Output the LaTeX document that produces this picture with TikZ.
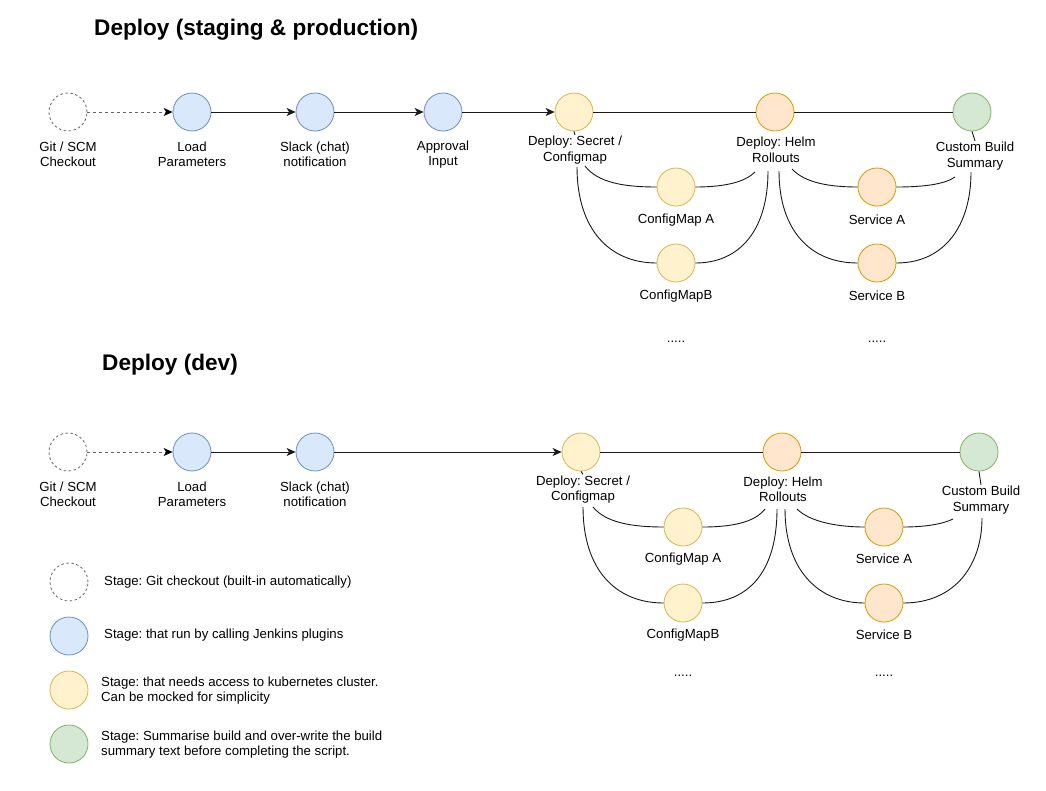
\documentclass[tikz,border=0pt]{standalone}
\usepackage{fontspec}
\setmainfont{Liberation Sans}
\usetikzlibrary{arrows.meta}
\frenchspacing
\definecolor{bfill}{HTML}{DAE8FC}\definecolor{bdraw}{HTML}{6C8EBF}
\definecolor{yfill}{HTML}{FFF2CC}\definecolor{ydraw}{HTML}{D6B656}
\definecolor{ofill}{HTML}{FFE6CC}\definecolor{odraw}{HTML}{D79B00}
\definecolor{gfill}{HTML}{D5E8D4}\definecolor{gdraw}{HTML}{82B366}
\definecolor{dgray}{HTML}{666666}
\tikzset{
  stage/.style={circle, minimum size=38pt, inner sep=0pt, line width=0.8pt},
  sgit/.style={stage, draw=dgray, fill=white, dash pattern=on 2.5pt off 2.5pt},
  sblue/.style={stage, fill=bfill, draw=bdraw},
  syellow/.style={stage, fill=yfill, draw=ydraw},
  sorange/.style={stage, fill=ofill, draw=odraw},
  sgreen/.style={stage, fill=gfill, draw=gdraw},
  lbl/.style={align=center, inner sep=1pt},
  conn/.style={line width=0.9pt, draw=black!90},
  arr/.style={conn, -{Stealth[length=9pt,width=8pt,inset=2.5pt]}},
  darr/.style={conn, draw=dgray, dash pattern=on 3pt off 3pt, -{Stealth[length=9pt,width=8pt,inset=2.5pt,color=black]}},
  ttl/.style={anchor=west, font=\bfseries\fontsize{22.6}{26}\selectfont, inner sep=0pt},
  legtxt/.style={anchor=west, align=left, inner sep=0pt},
}
\begin{document}
\begin{tikzpicture}[x=1pt,y=-1pt,font=\fontsize{13.2}{15.5}\selectfont]
\useasboundingbox (0,0) rectangle (1046,790);

% ===== Top: staging & production =====
\node[ttl] (t1) at (94,30) {Deploy (staging \& production)};

\node[sgit] (g1) at (68,112) {};
\node[sblue] (l1) at (192,112) {};
\node[sblue] (s1) at (315,112) {};
\node[sblue] (a1) at (443,112) {};
\node[syellow] (d1) at (574,112) {};
\node[sorange] (h1) at (775,112) {};
\node[sgreen] (c1) at (972,112) {};
\node[syellow] (ca1) at (676,187) {};
\node[syellow] (cb1) at (676,263) {};
\node[sorange] (sa1) at (877,187) {};
\node[sorange] (sb1) at (877,263) {};

\node[lbl] (g1l) at (68,154.5) {Git / SCM\\Checkout};
\node[lbl] (l1l) at (192,154.5) {Load\\Parameters};
\node[lbl] (s1l) at (315,154.5) {Slack (chat)\\notification};
\node[lbl] (a1l) at (443,154.5) {Approval\\Input};
\node[lbl] (d1l) at (575,150) {Deploy: Secret /\\Configmap};
\node[lbl] (h1l) at (776,150) {Deploy: Helm\\Rollouts};
\node[lbl] (c1l) at (975,156) {Custom Build\\Summary};
\node[lbl] (ca1l) at (676,220) {ConfigMap A};
\node[lbl] (cb1l) at (676,296) {ConfigMapB};
\node[lbl] (sa1l) at (877,220) {Service A};
\node[lbl] (sb1l) at (877,296) {Service B};
\node[lbl] (dots1a) at (676,342) {.....};
\node[lbl] (dots1b) at (877,342) {.....};

\draw[darr] (g1) -- (l1);
\draw[arr] (l1) -- (s1);
\draw[arr] (s1) -- (a1);
\draw[arr] (a1) -- (d1);
\draw[conn] (d1) -- (h1);
\draw[conn] (h1) -- (c1);
\draw[conn] (d1.south) -- (d1l.north);
\draw[conn] (c1.south) -- (c1l.north);

\coordinate (p1a) at (585,166);
\coordinate (p1b) at (577,167);
\coordinate (p1c) at (755,172);
\coordinate (p1d) at (768,171);
\coordinate (p1e) at (779,171);
\coordinate (p1f) at (792,169);
\coordinate (p1g) at (955,177);
\coordinate (p1h) at (971,172);
\draw[conn] (p1a) .. controls (598,183) and (625,187) .. (ca1.west);
\draw[conn] (p1b) .. controls (577,230) and (610,263) .. (cb1.west);
\draw[conn] (ca1.east) .. controls (725,187) and (745,182) .. (p1c);
\draw[conn] (cb1.east) .. controls (740,263) and (768,230) .. (p1d);
\draw[conn] (p1e) .. controls (779,230) and (810,263) .. (sb1.west);
\draw[conn] (p1f) .. controls (805,183) and (830,187) .. (sa1.west);
\draw[conn] (sa1.east) .. controls (925,187) and (945,184) .. (p1g);
\draw[conn] (sb1.east) .. controls (945,263) and (971,225) .. (p1h);

% ===== Bottom: dev =====
\node[ttl] (t2) at (102,365) {Deploy (dev)};

\node[sgit] (g2) at (68,452) {};
\node[sblue] (l2) at (192,452) {};
\node[sblue] (s2) at (315,452) {};
\node[syellow] (d2) at (581,452) {};
\node[sorange] (h2) at (782,452) {};
\node[sgreen] (c2) at (979,452) {};
\node[syellow] (ca2) at (683,527) {};
\node[syellow] (cb2) at (683,603) {};
\node[sorange] (sa2) at (884,527) {};
\node[sorange] (sb2) at (884,603) {};

\node[lbl] (g2l) at (68,494.5) {Git / SCM\\Checkout};
\node[lbl] (l2l) at (192,494.5) {Load\\Parameters};
\node[lbl] (s2l) at (315,494.5) {Slack (chat)\\notification};
\node[lbl] (d2l) at (583,489.5) {Deploy: Secret /\\Configmap};
\node[lbl] (h2l) at (783,489.5) {Deploy: Helm\\Rollouts};
\node[lbl] (c2l) at (981,500) {Custom Build\\Summary};
\node[lbl] (ca2l) at (683,559) {ConfigMap A};
\node[lbl] (cb2l) at (683,635) {ConfigMapB};
\node[lbl] (sa2l) at (884,559) {Service A};
\node[lbl] (sb2l) at (884,635) {Service B};
\node[lbl] (dots2a) at (683,676) {.....};
\node[lbl] (dots2b) at (884,676) {.....};

\draw[darr] (g2) -- (l2);
\draw[arr] (l2) -- (s2);
\draw[arr] (s2) -- (d2);
\draw[conn] (d2) -- (h2);
\draw[conn] (h2) -- (c2);
\draw[conn] (d2.south) -- (d2l.north);
\draw[conn] (c2.south) -- (c2l.north);

\coordinate (p2a) at (593,507);
\coordinate (p2b) at (583,507);
\coordinate (p2c) at (765,509);
\coordinate (p2d) at (777,509);
\coordinate (p2e) at (785,509);
\coordinate (p2f) at (797,509);
\coordinate (p2g) at (953,519);
\coordinate (p2h) at (982,518);
\draw[conn] (p2a) .. controls (606,523) and (633,527) .. (ca2.west);
\draw[conn] (p2b) .. controls (583,570) and (616,603) .. (cb2.west);
\draw[conn] (ca2.east) .. controls (733,527) and (755,522) .. (p2c);
\draw[conn] (cb2.east) .. controls (750,603) and (777,570) .. (p2d);
\draw[conn] (p2e) .. controls (785,570) and (818,603) .. (sb2.west);
\draw[conn] (p2f) .. controls (810,522) and (838,527) .. (sa2.west);
\draw[conn] (sa2.east) .. controls (925,527) and (943,524) .. (p2g);
\draw[conn] (sb2.east) .. controls (955,603) and (982,565) .. (p2h);

% ===== Legend =====
\node[sgit] (lg1) at (69,582) {};
\node[sblue] (lg2) at (69,636) {};
\node[syellow] (lg3) at (69,690) {};
\node[sgreen] (lg4) at (69,744) {};
\node[legtxt] (lt1) at (104,582) {Stage: Git checkout (built-in automatically)};
\node[legtxt] (lt2) at (104,635) {Stage: that run by calling Jenkins plugins};
\node[legtxt] (lt3) at (101,690.5) {Stage: that needs access to kubernetes cluster.\\Can be mocked for simplicity};
\node[legtxt] (lt4) at (101,744.5) {Stage: Summarise build and over-write the build\\summary text before completing the script.};
\end{tikzpicture}
\end{document}
